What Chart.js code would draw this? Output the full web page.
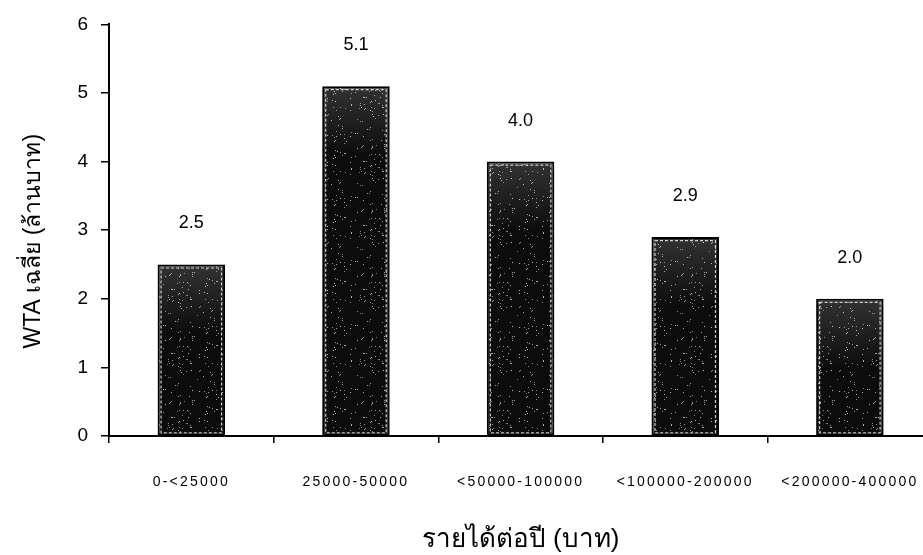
<!DOCTYPE html>
<html>
<head>
<meta charset="utf-8">
<script src="https://cdn.jsdelivr.net/npm/chart.js@4/dist/chart.umd.min.js"></script>
<style>
  html, body { margin: 0; padding: 0; background: #fff; overflow: hidden; }
  #wrap { width: 923px; height: 555px; overflow: hidden; position: relative; }
  canvas { display: block; }
</style>
</head>
<body>
<div id="wrap"><canvas id="chart" width="934" height="555"></canvas></div>
<script>
// Income bands (baht per year) and mean WTA (million baht)
const categories = ['0-<25000', '25000-50000', '<50000-100000', '<100000-200000', '<200000-400000'];
const wtaMean = [2.5, 5.1, 4.0, 2.9, 2.0];
const yTickValues = [0, 1, 2, 3, 4, 5, 6];

const FONT = '"Liberation Sans", Arial, "Noto Sans", sans-serif';

// Dark grainy fill for the bars: near-black base with scattered light specks.
function makeGrain() {
  const c = document.createElement('canvas');
  c.width = 64; c.height = 64;
  const g = c.getContext('2d');
  g.fillStyle = '#0c0c0c';
  g.fillRect(0, 0, 64, 64);
  let s = 12345;
  const next = () => { s = (s * 1103515245 + 12345) & 0x7fffffff; return s / 0x7fffffff; };
  for (let i = 0; i < 110; i++) {
    const x = Math.floor(next() * 64), y = Math.floor(next() * 64);
    const v = 140 + Math.floor(next() * 100);
    g.fillStyle = 'rgba(' + v + ',' + v + ',' + v + ',0.8)';
    g.fillRect(x, y, 1, 1);
  }
  return g.createPattern(c, 'repeat');
}

// Category axis whose tick labels are drawn with extra letter spacing
class SpacedCategoryScale extends Chart.CategoryScale {
  drawLabels(area) {
    const ctx = this.ctx;
    ctx.save();
    ctx.letterSpacing = '2.2px';
    super.drawLabels(area);
    ctx.restore();
  }
}
SpacedCategoryScale.id = 'spacedCategory';
SpacedCategoryScale.defaults = Chart.CategoryScale.defaults;

// Value axis whose rotated title sits a little lower than the plot centre
class ShiftedTitleLinearScale extends Chart.LinearScale {
  drawTitle() {
    const ctx = this.ctx;
    ctx.save();
    ctx.translate(0, 11);
    super.drawTitle();
    ctx.restore();
  }
}
ShiftedTitleLinearScale.id = 'shiftedTitleLinear';
ShiftedTitleLinearScale.defaults = Chart.LinearScale.defaults;

Chart.register(SpacedCategoryScale, ShiftedTitleLinearScale);

// Light inner frame on each bar, denser grain near the top, and the value above it
const barDecor = {
  id: 'barDecor',
  afterDatasetsDraw(chart) {
    const ctx = chart.ctx;
    const meta = chart.getDatasetMeta(0);
    const values = chart.data.datasets[0].data;
    ctx.save();
    meta.data.forEach((bar, i) => {
      const p = bar.getProps(['x', 'y', 'base', 'width'], true);
      const left = p.x - p.width / 2;
      const h = p.base - p.y;
      // lighter haze in the upper part of the bar
      const grad = ctx.createLinearGradient(0, p.y, 0, p.y + Math.min(h, 70));
      grad.addColorStop(0, 'rgba(255,255,255,0.16)');
      grad.addColorStop(1, 'rgba(255,255,255,0)');
      ctx.fillStyle = grad;
      ctx.fillRect(left + 2, p.y + 2, p.width - 4, Math.min(h, 70) - 2);
      ctx.strokeStyle = 'rgba(230,230,230,0.9)';
      ctx.lineWidth = 1.2;
      ctx.setLineDash([3, 2]);
      ctx.strokeRect(left + 3.5, p.y + 3.5, p.width - 7, h - 6);
      ctx.setLineDash([]);
      ctx.fillStyle = '#000';
      ctx.font = '18px ' + FONT;
      ctx.textAlign = 'center';
      ctx.textBaseline = 'middle';
      ctx.fillText(values[i].toFixed(1), p.x, p.y - 41);
    });
    ctx.restore();
  }
};

new Chart(document.getElementById('chart'), {
  type: 'bar',
  data: {
    labels: categories,
    datasets: [{
      data: wtaMean,
      backgroundColor: makeGrain(),
      borderColor: '#000',
      borderWidth: 2,
      borderSkipped: false,
      barPercentage: 0.41,
      categoryPercentage: 1.0
    }]
  },
  options: {
    responsive: false,
    animation: false,
    devicePixelRatio: 1,
    layout: { padding: { top: 20, left: 0, right: 0, bottom: 0 } },
    plugins: {
      legend: { display: false },
      tooltip: { enabled: false }
    },
    scales: {
      x: {
        type: 'spacedCategory',
        grid: {
          offset: true,
          drawOnChartArea: false,
          drawTicks: true,
          tickLength: 7,
          color: '#000',
          lineWidth: 1.5
        },
        border: { display: true, color: '#000', width: 2 },
        ticks: {
          color: '#000',
          font: { family: FONT, size: 14 },
          padding: 31,
          maxRotation: 0,
          autoSkip: false
        },
        title: {
          display: true,
          text: 'รายได้ต่อปี (บาท)',
          color: '#000',
          font: { family: FONT, size: 26 },
          padding: { top: 0, bottom: 0 }
        },
        afterFit(scale) { scale.height = 119; }
      },
      y: {
        type: 'shiftedTitleLinear',
        min: 0,
        max: 6,
        afterBuildTicks(scale) { scale.ticks = yTickValues.map(v => ({ value: v })); },
        grid: {
          drawOnChartArea: false,
          drawTicks: true,
          tickLength: 8,
          color: '#000',
          lineWidth: 1.5
        },
        border: { display: true, color: '#000', width: 2 },
        ticks: {
          color: '#000',
          font: { family: FONT, size: 19 },
          padding: 13
        },
        title: {
          display: true,
          text: 'WTA เฉลี่ย (ล้านบาท)',
          color: '#000',
          font: { family: FONT, size: 23 },
          padding: { top: 20, bottom: 0 }
        },
        afterFit(scale) { scale.width = 109; }
      }
    }
  },
  plugins: [barDecor]
});
</script>
</body>
</html>
